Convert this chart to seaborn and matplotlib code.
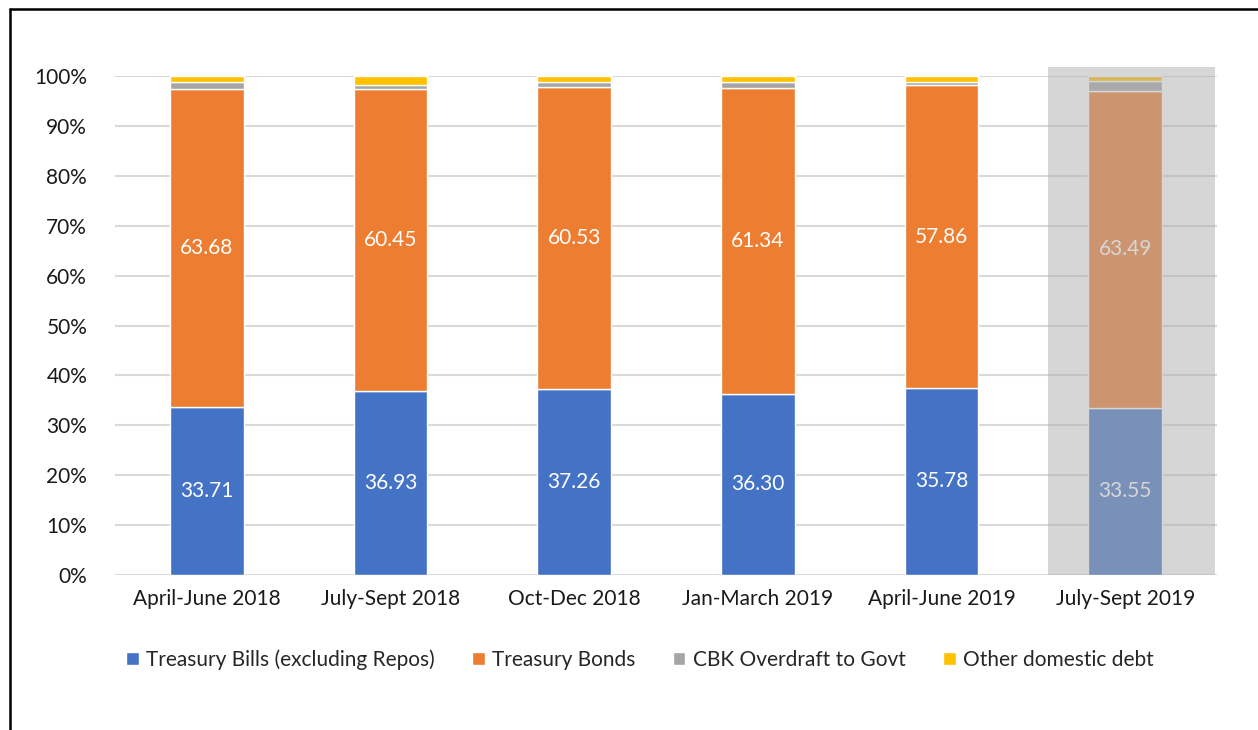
import numpy as np
import pandas as pd
import matplotlib
matplotlib.use('Agg')
import matplotlib.pyplot as plt
from matplotlib.lines import Line2D
from matplotlib.patches import Rectangle
import seaborn as sns

# Data (shares of domestic debt, as labelled)
quarters = ['April-June 2018', 'July-Sept 2018', 'Oct-Dec 2018',
            'Jan-March 2019', 'April-June 2019', 'July-Sept 2019']
tbills = [33.71, 36.93, 37.26, 36.30, 35.78, 33.55]
tbonds = [63.68, 60.45, 60.53, 61.34, 57.86, 63.49]
overdraft = [1.50, 0.90, 1.00, 1.20, 0.70, 2.00]
other = [1.11, 1.72, 1.21, 1.16, 1.10, 0.96]

series_names = ['Treasury Bills (excluding Repos)', 'Treasury Bonds',
                'CBK Overdraft to Govt', 'Other domestic debt']
colors = ['#4472C4', '#ED7D31', '#A5A5A5', '#FFC000']


def main():
    sns.set_style('white')
    plt.rcParams['font.family'] = ['Lato', 'DejaVu Sans']
    fs = 15

    raw = np.array([tbills, tbonds, overdraft, other])
    shares = raw / raw.sum(axis=0) * 100

    fig = plt.figure(figsize=(12.58, 7.3), dpi=100)
    ax = fig.add_axes([0.0914, 0.2123, 0.876, 0.6836])

    bottom = np.zeros(len(quarters))
    for share, col in zip(shares, colors):
        sns.barplot(x=quarters, y=share, bottom=bottom, color=col, width=0.4,
                    ax=ax, saturation=1, zorder=3)
        bottom = bottom + share

    # value labels for bills and bonds
    for i in range(len(quarters)):
        ax.text(i, shares[0][i] / 2, f'{tbills[i]:.2f}', ha='center', va='center',
                color='white', fontsize=fs, zorder=5)
        ax.text(i, shares[0][i] + shares[1][i] / 2, f'{tbonds[i]:.2f}', ha='center',
                va='center', color='white', fontsize=fs, zorder=5)

    ax.set_xlim(-0.5, 5.5)
    ax.set_ylim(0, 100)
    ax.set_yticks(np.arange(0, 101, 10))
    ax.set_yticklabels([f'{v}%' for v in range(0, 101, 10)])
    ax.yaxis.grid(True, color='#D9D9D9', linewidth=1.5, zorder=0)
    ax.set_axisbelow(True)
    ax.tick_params(axis='both', length=0, labelsize=fs, colors='#1a1a1a')
    ax.tick_params(axis='y', pad=20)
    ax.tick_params(axis='x', pad=10)
    ax.set_xlabel('')
    ax.set_ylabel('')
    sns.despine(ax=ax, left=True, bottom=True)

    # highlight on the last quarter
    ax.add_patch(Rectangle((4.58, 0), 0.91, 101.8, facecolor='#AEAEAE', alpha=0.5,
                           edgecolor='none', zorder=6, clip_on=False))

    handles = [Rectangle((0, 0), 1, 1, facecolor=c) for c in colors]
    fig.legend(handles, series_names, loc='center', bbox_to_anchor=(0.5087, 0.096),
               ncol=4, frameon=False, fontsize=fs, handlelength=0.6, handleheight=0.6,
               columnspacing=1.8, handletextpad=0.35)

    # outer frame
    fig.add_artist(Line2D([10 / 1258, 10 / 1258], [0, 1 - 9 / 730], color='black',
                          linewidth=1.8, transform=fig.transFigure))
    fig.add_artist(Line2D([10 / 1258, 1], [1 - 9 / 730, 1 - 9 / 730], color='black',
                          linewidth=1.8, transform=fig.transFigure))

    fig.savefig('out.png', dpi=100)


if __name__ == '__main__':
    main()
